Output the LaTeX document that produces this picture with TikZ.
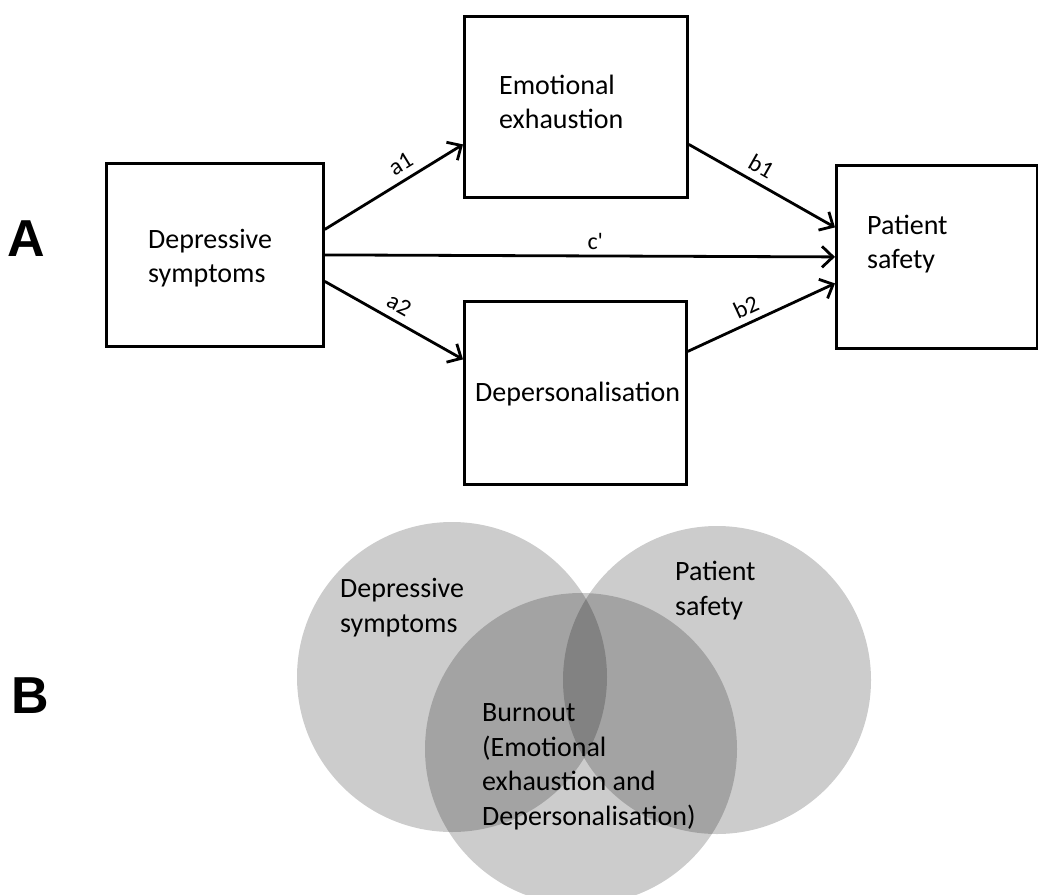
\documentclass[tikz,border=0pt]{standalone}
\usepackage{fontspec}
\setmainfont{Carlito}
\newfontfamily\letterfont{Liberation Sans}
\usetikzlibrary{arrows.meta}
\begin{document}
\begin{tikzpicture}[x=1pt,y=-1pt,
  box/.style={draw,line width=2.8pt,inner sep=0pt,anchor=north west},
  txt/.style={anchor=base west,inner sep=0pt,align=left,font=\fontsize{28}{34}\selectfont},
  ctxt/.style={anchor=base west,inner sep=0pt,align=left,font=\fontsize{28}{34.5}\selectfont},
  conn/.style={line width=2.8pt,-{Straight Barb[length=11pt,width=21pt,line width=2.8pt]}},
  lab/.style={font=\fontsize{24}{28}\selectfont,inner sep=0pt,sloped},
  circ/.style={fill=black,fill opacity=0.2,draw=none},
  letter/.style={anchor=base,inner sep=0pt,font=\letterfont\bfseries\fontsize{52}{52}\selectfont}]
\useasboundingbox (0,0) rectangle (1038,894);
% panel A
\node[box,minimum width=217pt,minimum height=183pt] (ds) at (105,162) {};
\node[box,minimum width=223pt,minimum height=181pt] (ee) at (463,15) {};
\node[box,minimum width=222pt,minimum height=183pt] (dp) at (463,300) {};
\node[box,minimum width=201pt,minimum height=183pt] (ps) at (835,164) {};
\node[txt] (dstxt) at (148,282) {Depressive\\symptoms};
\node[txt] (eetxt) at (499,128) {Emotional\\exhaustion};
\node[txt] (dptxt) at (475,401) {Depersonalisation};
\node[txt] (pstxt) at (867,268) {Patient\\safety};
\draw[conn] ([yshift=25.5pt]ds.east) -- node[lab,pos=0.61,above=7pt] (la1) {a1} ([yshift=-37.5pt]ee.west);
\draw[conn] (ds.east) -- node[lab,pos=0.53,above=5pt] (lc) {c\textquotesingle} (ps.west);
\draw[conn] ([yshift=-26.5pt]ds.east) -- node[lab,pos=0.48,above=7pt] (la2) {a2} ([yshift=33.5pt]dp.west);
\draw[conn] ([yshift=-37.5pt]ee.east) -- node[lab,pos=0.44,above=7pt] (lb1) {b1} ([yshift=29.5pt]ps.west);
\draw[conn] ([yshift=41.5pt]dp.east) -- node[lab,pos=0.44,above=6pt] (lb2) {b2} ([yshift=-26.5pt]ps.west);
\node[letter] (A) at (26,256) {A};
% panel B
\begin{scope}
\clip (0,0) rectangle (1038,894);
\fill[circ] (452,677) circle[radius=155pt];
\fill[circ] (717,680) circle[radius=154pt];
\fill[circ] (581,749) circle[radius=156pt];
\end{scope}
\node[ctxt] (cds) at (340,632) {Depressive\\symptoms};
\node[ctxt] (cps) at (675,615) {Patient\\safety};
\node[ctxt] (cbo) at (482,825) {Burnout\\(Emotional\\exhaustion and\\Depersonalisation)};
\node[letter] (B) at (30,713) {B};
\end{tikzpicture}
\end{document}
